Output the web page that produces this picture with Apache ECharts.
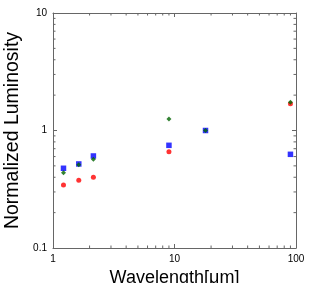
<!DOCTYPE html>
<html><head><meta charset="utf-8">
<script src="https://cdn.jsdelivr.net/npm/echarts@6/dist/echarts.min.js"></script>
<style>html,body{margin:0;padding:0;background:#fff}#c{width:315px;height:283px}</style>
</head><body><div id="c"></div>
<script>
var wavelengths = [1.22, 1.63, 2.15, 9, 18, 90];
var blueValues = [0.477, 0.519, 0.607, 0.748, 1.0, 0.627];
var greenValues = [0.437, 0.511, 0.569, 1.25, 1.0, 1.74];
var redValues = [0.344, 0.377, 0.400, 0.66, null, 1.69];
var xMinorTicks = [2,3,4,5,6,7,8,9,20,30,40,50,60,70,80,90];
var yMinorTicks = [0.2,0.3,0.4,0.5,0.6,0.7,0.8,0.9,2,3,4,5,6,7,8,9];

function pairs(vals){ var out=[]; for(var i=0;i<wavelengths.length;i++){ if(vals[i]!=null) out.push([wavelengths[i], vals[i]]);} return out; }

var font = 'Liberation Sans, Arial, sans-serif';
var axisLineStyle = {color:'#666', width:1};
var chart = echarts.init(document.getElementById('c'), null, {renderer:'canvas'});

function tickSeries(){
  return {
    type:'custom', silent:true, z:1,
    data: [0],
    renderItem: function(params, api){
      var children=[];
      var y0 = api.coord([1,0.1])[1], y1 = api.coord([1,10])[1];
      var x0 = api.coord([1,0.1])[0], x1 = api.coord([100,0.1])[0];
      xMinorTicks.forEach(function(v){
        var x = api.coord([v,1])[0];
        children.push({type:'line', shape:{x1:x,y1:y0,x2:x,y2:y0-2.5}, style:{stroke:'#666',lineWidth:1}});
        children.push({type:'line', shape:{x1:x,y1:y1,x2:x,y2:y1+2.5}, style:{stroke:'#666',lineWidth:1}});
      });
      yMinorTicks.forEach(function(v){
        var y = api.coord([1,v])[1];
        children.push({type:'line', shape:{x1:x0,y1:y,x2:x0+2.5,y2:y}, style:{stroke:'#666',lineWidth:1}});
        children.push({type:'line', shape:{x1:x1,y1:y,x2:x1-2.5,y2:y}, style:{stroke:'#666',lineWidth:1}});
      });
      return {type:'group', children:children};
    }
  };
}

chart.setOption({
  animation:false,
  grid:{left:53, right:19, top:13, bottom:35, containLabel:false, outerBoundsMode:'none'},
  xAxis:[{
    type:'log', logBase:10, min:1, max:100, position:'bottom',
    axisLine:{show:true, lineStyle:axisLineStyle},
    axisTick:{show:true, inside:true, length:4, lineStyle:axisLineStyle},
    splitLine:{show:false},
    axisLabel:{fontSize:10, color:'#000', fontFamily:font, margin:6},
    name:'Wavelength[μm]', nameLocation:'middle', nameGap:19,
    nameTextStyle:{fontSize:18, color:'#000', fontFamily:font}
  },{
    type:'log', logBase:10, min:1, max:100, position:'top',
    axisLine:{show:true, lineStyle:axisLineStyle},
    axisTick:{show:true, inside:true, length:4, lineStyle:axisLineStyle},
    splitLine:{show:false}, axisLabel:{show:false}
  }],
  yAxis:[{
    type:'log', logBase:10, min:0.1, max:10, position:'left',
    axisLine:{show:true, lineStyle:axisLineStyle},
    axisTick:{show:true, inside:true, length:4, lineStyle:axisLineStyle},
    splitLine:{show:false},
    axisLabel:{fontSize:10, color:'#000', fontFamily:font, margin:6},
    name:'Normalized Luminosity', nameLocation:'middle', nameGap:30,
    nameTextStyle:{fontSize:19.5, color:'#000', fontFamily:font}
  },{
    type:'log', logBase:10, min:0.1, max:10, position:'right',
    axisLine:{show:true, lineStyle:axisLineStyle},
    axisTick:{show:true, inside:true, length:4, lineStyle:axisLineStyle},
    splitLine:{show:false}, axisLabel:{show:false}
  }],
  series:[
    tickSeries(),
    {type:'scatter', name:'red', data:pairs(redValues), symbol:'circle', symbolSize:5, itemStyle:{color:'#ff0000'}, z:2},
    {type:'scatter', name:'blue', data:pairs(blueValues), symbol:'rect', symbolSize:5.5, itemStyle:{color:'#0000ff'}, z:3},
    {type:'scatter', name:'green', data:pairs(greenValues), symbol:'diamond', symbolSize:5, itemStyle:{color:'#006400'}, z:4}
  ]
});
</script></body></html>
